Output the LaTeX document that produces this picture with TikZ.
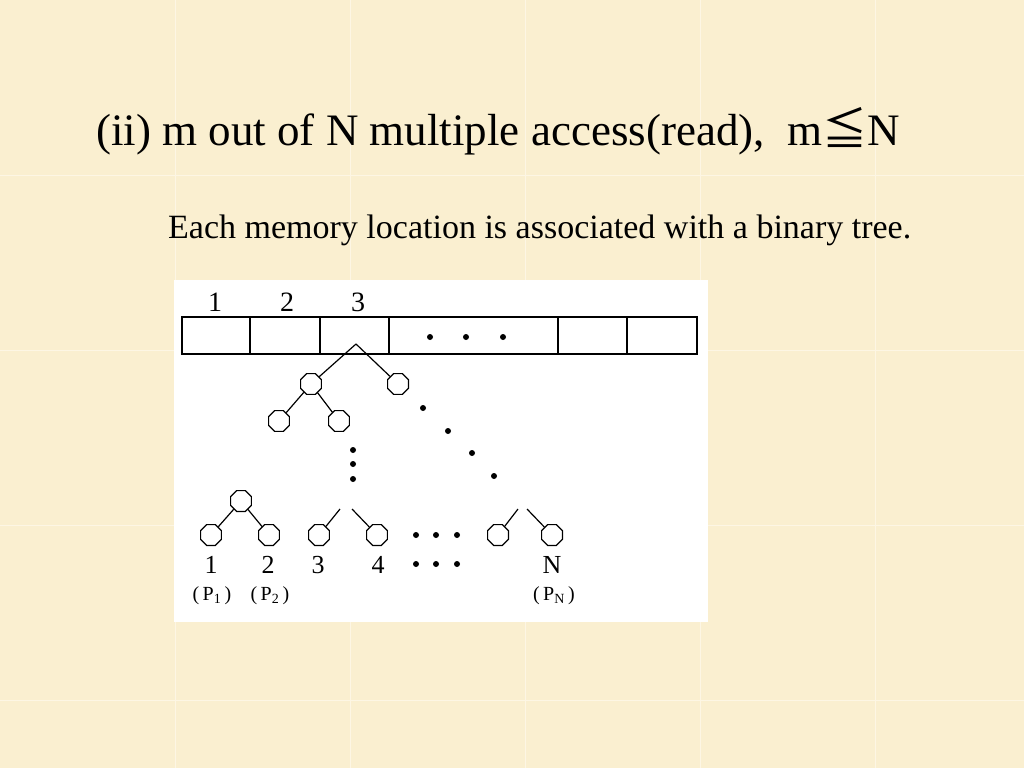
\documentclass[tikz,border=0pt]{standalone}
\usepackage{fontspec}
\setmainfont{Liberation Serif}
\newfontfamily\cjkf{Noto Sans CJK SC}
\usetikzlibrary{shapes.geometric}
\definecolor{parch}{RGB}{250,239,208}
\definecolor{tileline}{RGB}{253,246,228}
\tikzset{
  tnode/.style={draw, regular polygon, regular polygon sides=8, minimum size=22.5pt, inner sep=0pt, line width=1.2pt, fill=white},
  edge/.style={line width=1.2pt},
  dot/.style={circle, fill=black, inner sep=0pt, minimum size=6pt},
  cell/.style={draw, line width=1.3pt},
  lab/.style={font=\fontsize{28}{30}\selectfont, inner sep=0pt},
  blab/.style={font=\fontsize{26}{28}\selectfont, inner sep=0pt},
  plab/.style={font=\fontsize{20}{22}\selectfont, inner sep=0pt},
}
\begin{document}
\begin{tikzpicture}[x=1pt,y=-1pt]
\useasboundingbox (0,0) rectangle (1024,768);
\fill[parch] (0,0) rectangle (1024,768);
\foreach \v in {175,350,525,700,875} \draw[tileline, line width=1pt] (\v,0) -- (\v,768);
\foreach \v in {175,350,525,700} \draw[tileline, line width=1pt] (0,\v) -- (1024,\v);
% title
\node[anchor=base west, inner sep=0pt, font=\fontsize{45}{47}\selectfont] (title) at (96,145)
  {(ii) m out of N multiple access(read),\hspace{0.25em} m{\cjkf ≦}N};
\node[anchor=base west, inner sep=0pt, font=\fontsize{34}{36}\selectfont] (sub) at (168,238)
  {Each memory location is associated with a binary tree.};
% panel
\fill[white] (174,280) rectangle (708,622);
% memory array
\draw[cell] (182,317) rectangle (697,354);
\foreach \x in {250,320,389,558,627} \draw[cell] (\x,317) -- (\x,354);
\node[lab] (c1) at (215,302) {1};
\node[lab] (c2) at (287,302) {2};
\node[lab] (c3) at (358,302) {3};
\node[dot] (d1) at (430,337) {};
\node[dot] (d2) at (466,337) {};
\node[dot] (d3) at (503,337) {};
% tree from cell 3
\coordinate (apex) at (356,344);
\node[tnode] (n1) at (311,384) {};
\node[tnode] (n2) at (398,384) {};
\node[tnode] (n11) at (279,421) {};
\node[tnode] (n12) at (339,421) {};
\draw[edge] (apex) -- (n1);
\draw[edge] (apex) -- (n2);
\draw[edge] (n1) -- (n11);
\draw[edge] (n1) -- (n12);
\node[dot] (e1) at (423,408) {};
\node[dot] (e2) at (448,431) {};
\node[dot] (e3) at (472,453) {};
\node[dot] (e4) at (494,476) {};
\node[dot] (v1) at (353,450) {};
\node[dot] (v2) at (353,464) {};
\node[dot] (v3) at (353,479) {};
% leaf level
\node[tnode] (t1) at (241,501) {};
\node[tnode] (l1) at (211,535) {};
\node[tnode] (l2) at (269,535) {};
\draw[edge] (t1) -- (l1);
\draw[edge] (t1) -- (l2);
\coordinate (a3) at (340,509);
\coordinate (a4) at (352,509);
\node[tnode] (l3) at (319,535) {};
\node[tnode] (l4) at (377,535) {};
\draw[edge] (a3) -- (l3);
\draw[edge] (a4) -- (l4);
\coordinate (aN1) at (518,509);
\coordinate (aN2) at (527,509);
\node[tnode] (lN1) at (498,535) {};
\node[tnode] (lN) at (552,535) {};
\draw[edge] (aN1) -- (lN1);
\draw[edge] (aN2) -- (lN);
\node[dot] (r1) at (416,535) {};
\node[dot] (r2) at (436,535) {};
\node[dot] (r3) at (457,535) {};
\node[dot] (s1) at (416,564) {};
\node[dot] (s2) at (436,564) {};
\node[dot] (s3) at (457,564) {};
% labels
\node[blab] (b1) at (211,565) {1};
\node[blab] (b2) at (268,565) {2};
\node[blab] (b3) at (318,565) {3};
\node[blab] (b4) at (378,565) {4};
\node[blab] (bN) at (552,565) {N};
\node[plab] (p1) at (212,596) {(\,P\textsubscript{1}\,)};
\node[plab] (p2) at (270,596) {(\,P\textsubscript{2}\,)};
\node[plab] (pN) at (554,596) {(\,P\textsubscript{N}\,)};
\end{tikzpicture}
\end{document}
